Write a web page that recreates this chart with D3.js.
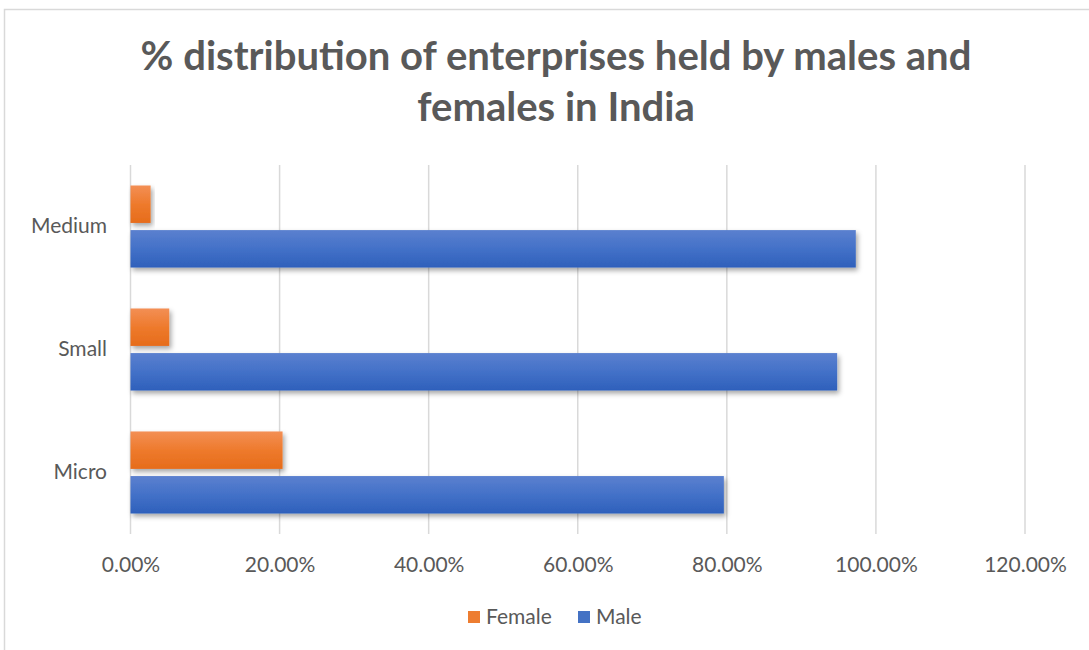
<!DOCTYPE html>
<html><head><meta charset="utf-8">
<script src="https://cdn.jsdelivr.net/npm/d3@7"></script>
<style>body{margin:0;background:#fff;} svg{display:block;}</style>
</head><body>
<svg id="c" width="1089" height="650"></svg>
<script>
const categories = ["Micro", "Small", "Medium"];
const series = ["Female", "Male"];
const femaleValues = [20.4, 5.2, 2.7];
const maleValues = [79.6, 94.8, 97.3];
const tickValues = [0, 20, 40, 60, 80, 100, 120];
const titleLines = ["% distribution of enterprises held by males and", "females in India"];
const colors = {Female: "#ED7D31", Male: "#4472C4"};

const svg = d3.select("#c");
const font = "Lato, 'Open Sans', sans-serif";
const gray = "#595959";
const lblSize = 21;

// frame
svg.append("rect").attr("x", 4.5).attr("y", 9.5).attr("width", 1100).attr("height", 700)
  .attr("fill", "#fff").attr("stroke", "#d9d9d9").attr("stroke-width", 1.5);

const defs = svg.append("defs");
const grad = (id, c1, c2, c3) => {
  const g = defs.append("linearGradient").attr("id", id).attr("x1", 0).attr("y1", 0).attr("x2", 0).attr("y2", 1);
  g.append("stop").attr("offset", "0%").attr("stop-color", c1);
  g.append("stop").attr("offset", "50%").attr("stop-color", c2);
  g.append("stop").attr("offset", "100%").attr("stop-color", c3);
};
grad("gFemale", "#F38F55", "#EE7A2C", "#E66C1B");
grad("gMale", "#5B80CF", "#4371C8", "#2E60BB");
const f = defs.append("filter").attr("id", "sh").attr("x", "-10%").attr("y", "-30%").attr("width", "130%").attr("height", "170%");
f.append("feDropShadow").attr("dx", 2).attr("dy", 3).attr("stdDeviation", 2.5).attr("flood-color", "#000").attr("flood-opacity", 0.35);

// title
const titleTargets = [{y: 70, w: 831}, {y: 121, w: 278}];
let titleSize = 36;
titleLines.forEach((t, i) => {
  const el = svg.append("text").attr("x", 556).attr("y", titleTargets[i].y)
    .attr("text-anchor", "middle").attr("font-family", font).attr("font-weight", "bold")
    .attr("font-size", 36).attr("fill", gray).text(t);
  if (i === 0) titleSize = 36 * titleTargets[0].w / el.node().getComputedTextLength();
  el.attr("font-size", titleSize);
});

const x = d3.scaleLinear().domain([0, 120]).range([130.5, 1025]);
const y = d3.scaleBand().domain(categories.slice().reverse()).range([165, 534]).paddingInner(0.333).paddingOuter(0.1667);
const ySub = d3.scaleBand().domain(series).range([0, y.bandwidth()]).paddingInner(0.16);

// gridlines
svg.append("g").selectAll("line").data(tickValues).join("line")
  .attr("x1", d => x(d)).attr("x2", d => x(d)).attr("y1", 165).attr("y2", 534)
  .attr("stroke", "#d9d9d9").attr("stroke-width", 1.5);

// x axis labels
const xAxis = d3.axisBottom(x).tickValues(tickValues).tickSize(0).tickPadding(0)
  .tickFormat(d => d3.format(".2f")(d) + "%");
const xg = svg.append("g").attr("transform", "translate(0,557)").call(xAxis);
xg.select(".domain").remove();
xg.selectAll("text").attr("font-family", font).attr("font-size", lblSize).attr("fill", gray);

// y axis labels
const yAxis = d3.axisLeft(y).tickSize(0).tickPadding(0);
const yg = svg.append("g").attr("transform", "translate(107,0)").call(yAxis);
yg.select(".domain").remove();
yg.selectAll("text").attr("font-family", font).attr("font-size", lblSize).attr("fill", gray);

// bars
const data = categories.map((c, i) => ({cat: c, Female: femaleValues[i], Male: maleValues[i]}));
const groups = svg.append("g").selectAll("g").data(data).join("g")
  .attr("transform", d => `translate(0,${y(d.cat)})`);
groups.selectAll("rect").data(d => series.map(s => ({s, v: d[s]}))).join("rect")
  .attr("x", x(0)).attr("y", d => ySub(d.s)).attr("height", ySub.bandwidth())
  .attr("width", d => x(d.v) - x(0)).attr("fill", d => `url(#g${d.s})`).attr("filter", "url(#sh)");

// legend
const lg = svg.append("g").attr("transform", "translate(468,617)");
const items = [{s: "Female", x: 0}, {s: "Male", x: 110}];
items.forEach(it => {
  lg.append("rect").attr("x", it.x).attr("y", -6).attr("width", 12).attr("height", 12).attr("fill", colors[it.s]);
  lg.append("text").attr("x", it.x + 18).attr("y", 0).attr("dy", "0.35em")
    .attr("font-family", font).attr("font-size", lblSize).attr("fill", gray).text(it.s);
});
</script>
</body></html>
